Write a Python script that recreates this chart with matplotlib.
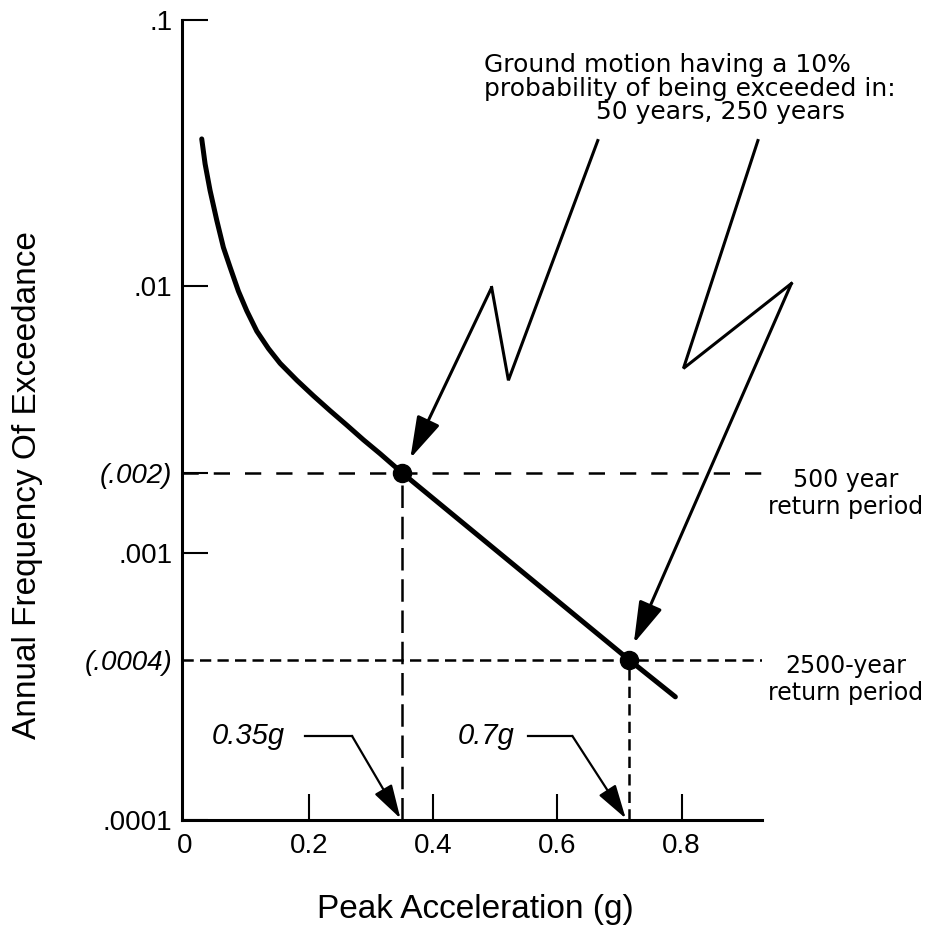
import matplotlib.pyplot as plt
from matplotlib.ticker import NullLocator

# hazard curve
accel = [0.0269, 0.0323, 0.0403, 0.0511, 0.0618, 0.0726, 0.0860, 0.0995, 0.1156,
         0.1344, 0.1532, 0.1802, 0.2070, 0.2339, 0.2608, 0.2876, 0.3145, 0.35,
         0.715, 0.79]
freq = [0.0357, 0.0288, 0.0229, 0.0177, 0.0140, 0.0118, 0.0096, 0.0081, 0.0068,
        0.00585, 0.00515, 0.00445, 0.00389, 0.00342, 0.00302, 0.00266, 0.00236,
        0.002, 0.0004, 0.00029]

# design points (500 and 2500 year return periods)
point_accel = [0.35, 0.715]
point_freq = [0.002, 0.0004]
point_names = ["500 year\nreturn period", "2500-year\nreturn period"]
point_g = ["0.35g", "0.7g"]

ytick_vals = [0.0001, 0.0004, 0.001, 0.002, 0.01, 0.1]
ytick_labels = [".0001", "(.0004)", ".001", "(.002)", ".01", ".1"]
xtick_vals = [0, 0.2, 0.4, 0.6, 0.8]
xtick_labels = ["0", "0.2", "0.4", "0.6", "0.8"]

note_lines = ["Ground motion having a 10%",
              "probability of being exceeded in:",
              " " * 14 + "50 years, 250 years"]

# callout arrows (acceleration, frequency) ending on the design points
arrow_50_x = [0.665, 0.521, 0.494, 0.363]
arrow_50_y = [0.0352, 0.00445, 0.00991, 0.00227]
arrow_250_x = [0.923, 0.803, 0.977, 0.723]
arrow_250_y = [0.0352, 0.00493, 0.01026, 0.00046]

plt.rcParams["font.family"] = ["Liberation Sans", "DejaVu Sans"]

fig = plt.figure(figsize=(9.33, 9.30), dpi=100)
ax = fig.add_axes((0.195, 0.118, 0.622, 0.861))
ax.set_yscale("log")
ax.set_xlim(-0.005, 0.93)
ax.set_ylim(1e-4, 1e-1)

ax.plot(accel, freq, color="black", lw=3.6, solid_capstyle="round",
        solid_joinstyle="round", zorder=3)
ax.plot(point_accel, point_freq, "o", color="black", ms=13, zorder=4)

# guide lines
h_dash = [(0, (6.5, 6)), (0, (4.5, 2.5))]
v_dash = [(0, (9, 3.5)), (0, (4.5, 2.5))]
for i in range(2):
    ax.axhline(point_freq[i], color="black", lw=1.8, ls=h_dash[i], zorder=2)
    ax.vlines(point_accel[i], 1e-4, point_freq[i], color="black", lw=1.8,
              ls=v_dash[i], zorder=2)
    ax.text(1.064, point_freq[i] * 0.84, point_names[i], ha="center", va="center",
            fontsize=17, family="DejaVu Sans", linespacing=1.15, clip_on=False)

# axes styling
for s in ["top", "right"]:
    ax.spines[s].set_visible(False)
for s in ["left", "bottom"]:
    ax.spines[s].set_linewidth(2.2)

ax.xaxis.set_minor_locator(NullLocator())
ax.yaxis.set_minor_locator(NullLocator())
ax.set_xticks(xtick_vals, xtick_labels)
ax.set_yticks(ytick_vals, ytick_labels)
ax.tick_params(direction="in", length=19, width=1.5, labelsize=20)
ax.tick_params(axis="x", pad=9)
ax.tick_params(axis="y", pad=7)
for lbl in ax.get_yticklabels():
    if "(" in lbl.get_text():
        lbl.set_style("italic")
for tick, val in zip(ax.yaxis.get_major_ticks(), ytick_vals):
    if val == 0.0004:
        tick.tick1line.set_visible(False)
for tick, val in zip(ax.xaxis.get_major_ticks(), xtick_vals):
    if val == 0:
        tick.tick1line.set_visible(False)

fig.text(0.030, 0.478, "Annual Frequency Of Exceedance", rotation=90,
         ha="center", va="center", fontsize=24)
fig.text(0.510, 0.0129, "Peak Acceleration (g)", ha="center", va="baseline",
         fontsize=24)


def leader(xs, ys, lw, scale):
    ax.plot(xs[:-1], ys[:-1], color="black", lw=lw, clip_on=False,
            solid_joinstyle="miter", zorder=5)
    ax.annotate("", xy=(xs[-1], ys[-1]), xytext=(xs[-2], ys[-2]),
                annotation_clip=False, zorder=5,
                arrowprops=dict(arrowstyle="-|>,head_length=0.95,head_width=0.28",
                                mutation_scale=scale, color="black", lw=lw,
                                shrinkA=0, shrinkB=0))


leader(arrow_50_x, arrow_50_y, 2.2, 27)
leader(arrow_250_x, arrow_250_y, 2.2, 27)

# g-value callouts under the curve
g_text_x = [0.102, 0.485]
g_leader_x = [[0.194, 0.269, 0.347], [0.552, 0.624, 0.710]]
g_leader_y = [0.000207, 0.000207, 0.0001016]
for i in range(2):
    ax.text(g_text_x[i], g_leader_y[0], point_g[i], ha="center", va="center",
            fontsize=21, style="italic")
    leader(g_leader_x[i], g_leader_y, 1.6, 22)

# title note
fig.text(0.519, 0.943, "\n".join(note_lines), ha="left", va="top",
         multialignment="left", fontsize=18, linespacing=0.98,
         family="DejaVu Sans")

fig.savefig("out.png", dpi=100)
